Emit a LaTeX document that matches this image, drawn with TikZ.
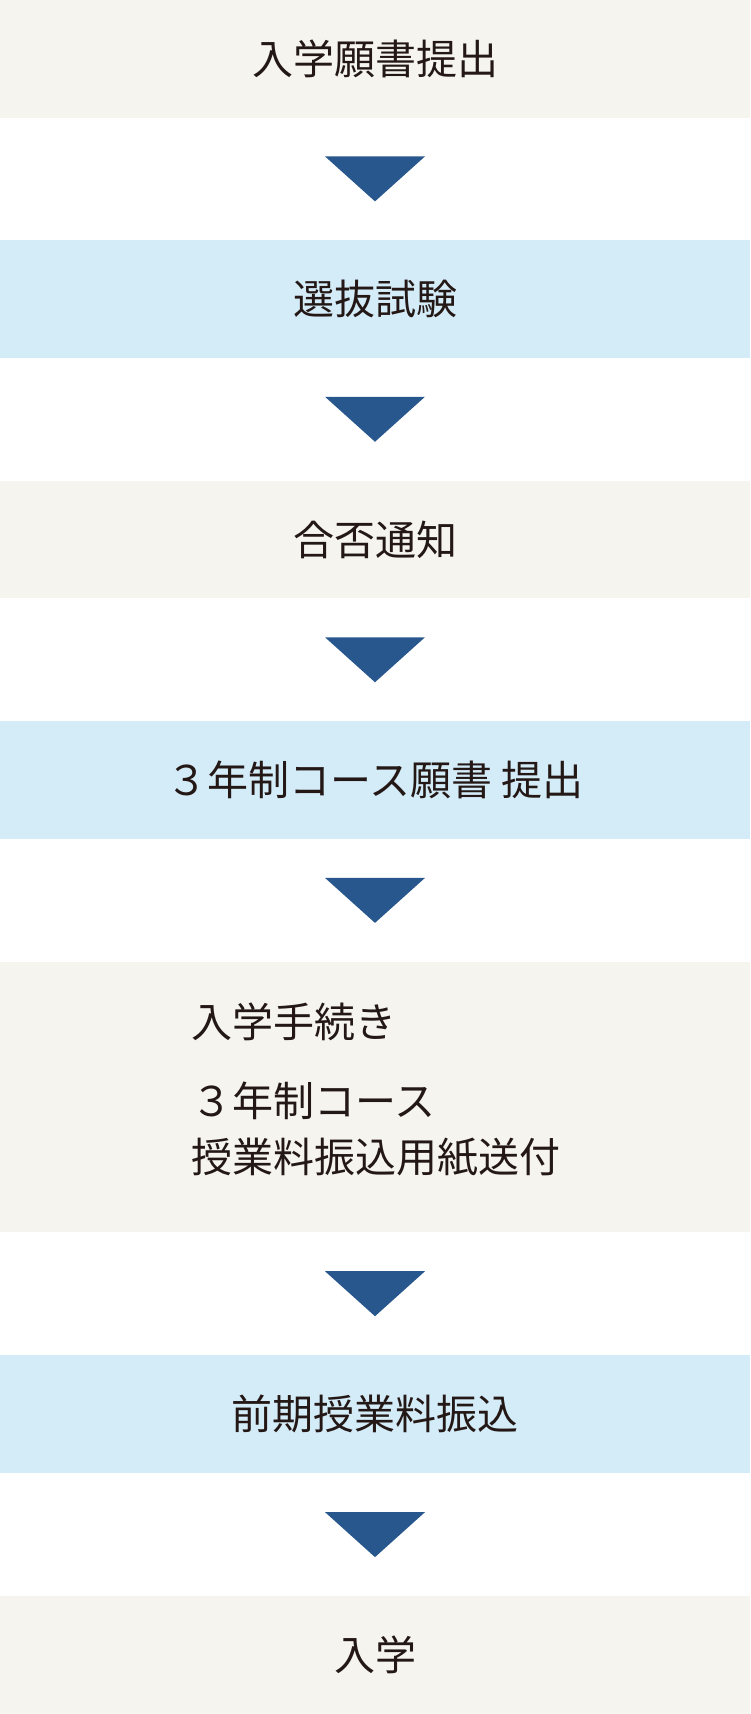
\documentclass[tikz,border=0pt]{standalone}
\usepackage{fontspec}
\setmainfont{Noto Sans CJK JP}
\usetikzlibrary{calc}
\definecolor{paper}{HTML}{F5F4EE}
\definecolor{sky}{HTML}{D4EBF8}
\definecolor{navy}{HTML}{28578E}
\definecolor{ink}{HTML}{231815}
\begin{document}
\begin{tikzpicture}[x=1pt,y=-1pt,
    box/.style={rectangle,inner sep=0pt,outer sep=0pt,minimum width=750pt,minimum height=117.5pt,
      text=ink,font=\fontsize{41}{56}\selectfont},
    paperbox/.style={box,fill=paper},
    skybox/.style={box,fill=sky},
    line/.style={inner sep=0pt,anchor=west,text=ink,font=\fontsize{41}{56}\selectfont},
    tri/.style={fill=navy}]
  \useasboundingbox (0,0) rectangle (750,1714);
  \node[paperbox] (b1) at (375,58.75) {入学願書提出};
  \node[skybox] (b2) at (375,299) {選抜試験};
  \node[paperbox] (b3) at (375,539.5) {合否通知};
  \node[skybox] (b4) at (375,780) {３年制コース願書 提出};
  \node[paperbox,minimum height=270pt] (b5) at (375,1097) {};
  \node[line] (b5a) at (191,1022) {入学手続き};
  \node[line] (b5b) at (191,1101) {３年制コース};
  \node[line] (b5c) at (191,1157) {授業料振込用紙送付};
  \node[skybox] (b6) at (375,1414.2) {前期授業料振込};
  \node[paperbox,minimum height=117.7pt] (b7) at (375,1655.15) {入学};
  % triangles between the steps
  \foreach \a/\b in {b1/b2,b2/b3,b3/b4,b4/b5,b5/b6,b6/b7}
    \fill[tri] ($(\a.south)!0.5!(\b.north)+(-50,-22.5)$) -- ++(100,0)
      -- ($(\a.south)!0.5!(\b.north)+(0,22.5)$) -- cycle;
\end{tikzpicture}
\end{document}
